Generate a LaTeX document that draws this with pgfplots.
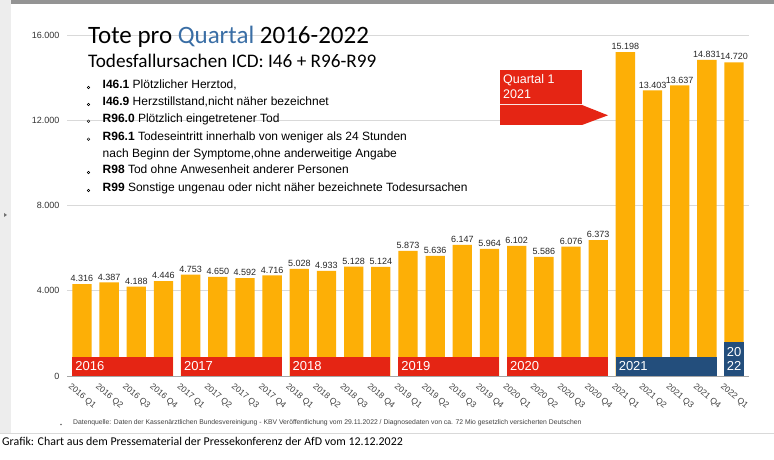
\documentclass[border=0pt]{standalone}
\usepackage{fontspec}
\setmainfont{Liberation Sans}
\newfontfamily\carlito{Carlito}
\usepackage{pgfplots}
\pgfplotsset{compat=1.18}
\definecolor{barorange}{HTML}{FDAF06}
\definecolor{bandred}{HTML}{E52514}
\definecolor{bandblue}{HTML}{234E7C}
\definecolor{titleblue}{HTML}{3A6EA5}
\begin{document}
\begin{tikzpicture}[x=1pt,y=1pt]
\useasboundingbox (0,0) rectangle (774,460);
\fill[white] (0,0) rectangle (774,460);
\fill[black!7] (0,27) rectangle (10.5,460);
\fill[black!42] (10.5,456) rectangle (774,460);
\draw[black!15, line width=0.8pt] (0,27) -- (774,27);
\fill[black!55] (4,243) -- (7,245) -- (4,247) -- cycle;
\begin{axis}[
  at={(67pt,84pt)}, anchor=south west, scale only axis,
  width=682pt, height=341pt,
  xmin=-0.55, xmax=24.55, ymin=0, ymax=16000,
  ytick={0,4000,8000,12000,16000},
  scaled y ticks=false,
  ymajorgrids, grid style={black!15, line width=0.8pt},
  axis x line*=bottom, axis y line*=left,
  x axis line style={black!35, line width=0.8pt, -},
  y axis line style={draw=none},
  tick style={draw=none},
  /pgf/number format/1000 sep={.},
  /pgf/number format/assume math mode=true,
  yticklabel style={font=\fontsize{9}{9}\selectfont, text=black!80, xshift=-4pt},
  xtick={0,...,24},
  xticklabels={{2016 Q1},{2016 Q2},{2016 Q3},{2016 Q4},{2017 Q1},{2017 Q2},{2017 Q3},{2017 Q4},{2018 Q1},{2018 Q2},{2018 Q3},{2018 Q4},{2019 Q1},{2019 Q2},{2019 Q3},{2019 Q4},{2020 Q1},{2020 Q2},{2020 Q3},{2020 Q4},{2021 Q1},{2021 Q2},{2021 Q3},{2021 Q4},{2022 Q1}},
  xticklabel style={font=\fontsize{8.5}{8.5}\selectfont, text=black!75, xshift=-10pt, yshift=-7pt, rotate=-40, anchor=north west, inner sep=0pt},
  nodes near coords,
  nodes near coords style={font=\fontsize{9}{9}\selectfont, text=black!85, inner sep=2pt},
]
\addplot[ybar, bar width=19.3pt, fill=barorange, draw=none] coordinates {
(0,4316) (1,4387) (2,4188) (3,4446)
(4,4753) (5,4650) (6,4592) (7,4716)
(8,5028) (9,4933) (10,5128) (11,5124)
(12,5873) (13,5636) (14,6147) (15,5964)
(16,6102) (17,5586) (18,6076) (19,6373)
(20,15198) (21,13403) (22,13637) (23,14831)
(24,14720)};
\fill[bandred] (axis cs:-0.355,0) rectangle (axis cs:3.355,890);
\fill[bandred] (axis cs:3.645,0) rectangle (axis cs:7.355,890);
\fill[bandred] (axis cs:7.645,0) rectangle (axis cs:11.355,890);
\fill[bandred] (axis cs:11.645,0) rectangle (axis cs:15.355,890);
\fill[bandred] (axis cs:15.645,0) rectangle (axis cs:19.355,890);
\fill[bandblue] (axis cs:19.645,0) rectangle (axis cs:23.355,890);
\fill[bandblue] (axis cs:23.645,0) rectangle (axis cs:24.355,1600);
\node[anchor=west, text=white, font=\fontsize{13}{13}\selectfont, inner sep=0pt] at (axis cs:-0.25,445) {2016};
\node[anchor=west, text=white, font=\fontsize{13}{13}\selectfont, inner sep=0pt] at (axis cs:3.75,445) {2017};
\node[anchor=west, text=white, font=\fontsize{13}{13}\selectfont, inner sep=0pt] at (axis cs:7.75,445) {2018};
\node[anchor=west, text=white, font=\fontsize{13}{13}\selectfont, inner sep=0pt] at (axis cs:11.75,445) {2019};
\node[anchor=west, text=white, font=\fontsize{13}{13}\selectfont, inner sep=0pt] at (axis cs:15.75,445) {2020};
\node[anchor=west, text=white, font=\fontsize{13}{13}\selectfont, inner sep=0pt] at (axis cs:19.75,445) {2021};
\node[text=white, font=\fontsize{13}{13}\selectfont, inner sep=0pt, align=center] at (axis cs:24,790) {20\\[1pt]22};
\end{axis}
% callout
\fill[bandred] (500,356) rectangle (582,390);
\fill[bandred] (500,355) -- (582,355) -- (608,344.7) -- (582,335) -- (500,335) -- cycle;
\node[anchor=base west, text=white, font=\fontsize{12.5}{12.5}\selectfont, inner sep=0pt] at (503,376) {Quartal 1};
\node[anchor=base west, text=white, font=\fontsize{12.5}{12.5}\selectfont, inner sep=0pt] at (503,361) {2021};
% titles
\node[anchor=base west, inner sep=0pt, font=\carlito\fontsize{25}{25}\selectfont] at (88,416) {Tote pro \textcolor{titleblue}{Quartal} 2016-2022};
\node[anchor=base west, inner sep=0pt, font=\carlito\fontsize{19.2}{19.2}\selectfont] at (88,392) {Todesfallursachen ICD: I46 + R96-R99};
\begin{scope}[every node/.style={anchor=base west, inner sep=0pt, font=\fontsize{12}{12}\selectfont}]
\node at (102.5,371) {\textbf{I46.1} Plötzlicher Herztod,};
\node at (102.5,354) {\textbf{I46.9} Herzstillstand,nicht näher bezeichnet};
\node at (102.5,337.3) {\textbf{R96.0} Plötzlich eingetretener Tod};
\node at (102.5,319.3) {\textbf{R96.1} Todeseintritt innerhalb von weniger als 24 Stunden};
\node at (102.5,302) {nach Beginn der Symptome,ohne anderweitige Angabe};
\node at (102.5,286) {\textbf{R98} Tod ohne Anwesenheit anderer Personen};
\node at (102.5,268) {\textbf{R99} Sonstige ungenau oder nicht näher bezeichnete Todesursachen};
\end{scope}
\foreach \yy in {371,354,337.3,319.3,286,268} \draw[black, line width=0.45pt] (88.5,\yy+1.5) circle (1.3pt);
% source
\fill[black!60] (61,35.5) circle (0.8pt);
\node[anchor=base west, inner sep=0pt, text=black!75, font=\fontsize{6.8}{6.8}\selectfont] at (73,35) {Datenquelle: Daten der Kassenärztlichen Bundesvereinigung - KBV Veröffentlichung vom 29.11.2022 / Diagnosedaten von ca. 72 Mio gesetzlich versicherten Deutschen};
\node[anchor=base west, inner sep=0pt, font=\carlito\fontsize{11.9}{11.9}\selectfont] at (2,14) {Grafik: Chart aus dem Pressematerial der Pressekonferenz der AfD vom 12.12.2022};
\end{tikzpicture}
\end{document}
